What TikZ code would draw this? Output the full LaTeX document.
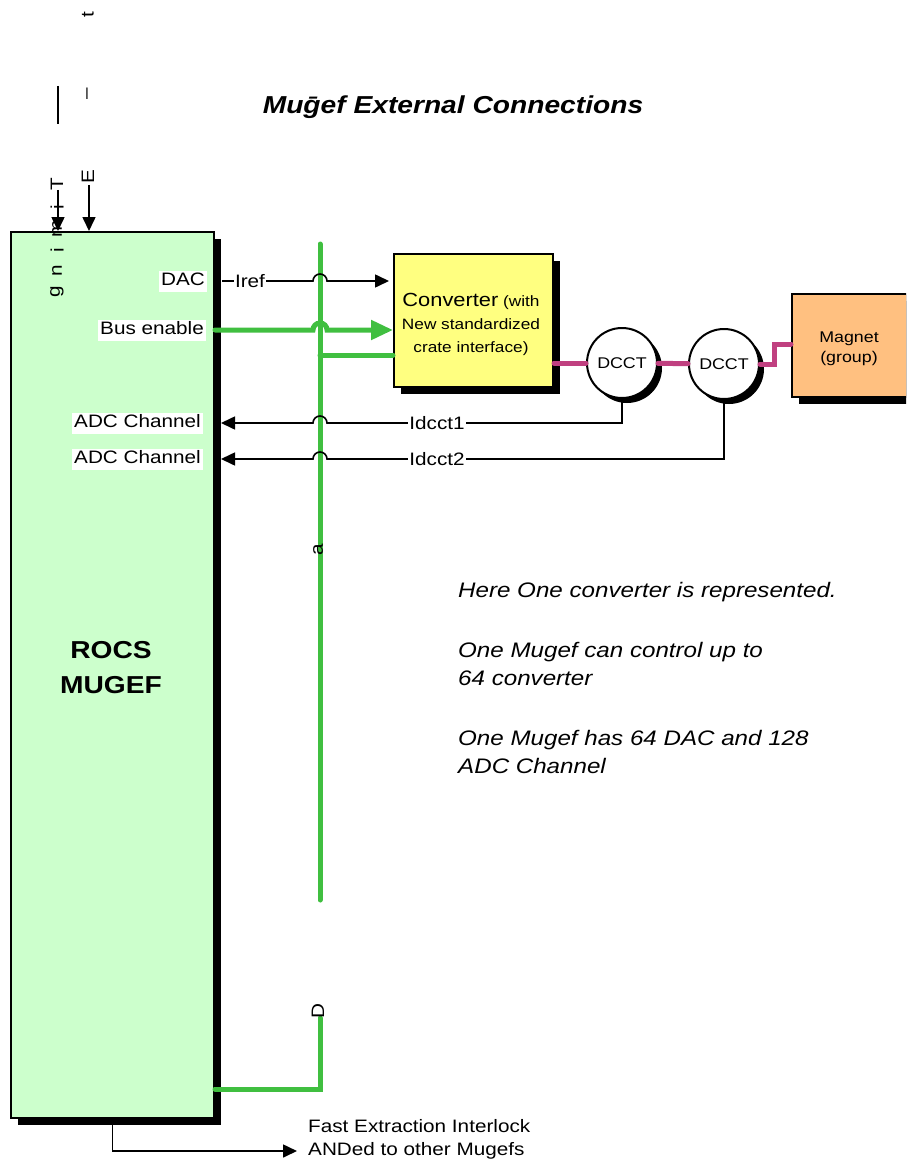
\documentclass[tikz,border=0pt]{standalone}
\usepackage{fontspec}
\setmainfont{Liberation Sans}[FakeStretch=1.15]
\usepackage{tikz}
\usetikzlibrary{arrows.meta,positioning,calc,shadows}
\usepackage{xcolor}
\definecolor{RocsGreen}{HTML}{CCFFCC}
\definecolor{BusGreen}{HTML}{40BF40}
\definecolor{ConvYellow}{HTML}{FFFF80}
\definecolor{MagOrange}{HTML}{FFC080}
\definecolor{PwrPink}{HTML}{C04080}

\begin{document}
\begin{tikzpicture}[x=1pt, y=-1pt,
    txt/.style={font=\fontsize{18}{22}\selectfont, inner sep=2pt},
    lbl/.style={txt, fill=white, text height=13pt, text depth=4pt},
    ltr/.style={font=\fontsize{18}{18}\selectfont, rotate=90, inner sep=0pt},
    note/.style={font=\fontsize{21}{28}\selectfont\itshape, align=left, anchor=west, inner sep=0pt},
    blk/.style={line width=1.6pt, black},
    blkarrow/.style={-{Triangle[length=14pt,width=13pt]}},
    bus/.style={line width=5pt, BusGreen, line cap=round},
    pwr/.style={line width=5pt, PwrPink, line cap=round},
    shd/.style={drop shadow={shadow xshift=7pt, shadow yshift=-7pt, fill=black, opacity=1}},
    dcctnode/.style={draw, circle, line width=2pt, fill=white, minimum size=70pt, inner sep=0pt,
      font=\fontsize{15.5}{18}\selectfont,
      drop shadow={shadow xshift=5pt, shadow yshift=-5pt, fill=black, opacity=1}}]
  \useasboundingbox (0,0) rectangle (906,1161);
  \clip (0,0) rectangle (906,1161);

  \node[font=\fontsize{24.5}{28}\selectfont\bfseries\itshape] (title) at (453,107) {Mu\={g}ef External Connections};

  % crate
  \node[draw, line width=2pt, fill=RocsGreen, shd, minimum width=203pt, minimum height=886pt, inner sep=0pt] (rocs) at (112.5,675) {};
  \node[font=\fontsize{24.5}{35}\selectfont\bfseries, align=center] (rocslbl) at (111,668) {ROCS\\MUGEF};
  \node[lbl, anchor=east] (dac) at (207,281) {DAC};
  \node[lbl, anchor=east] (busen) at (206,330) {Bus enable};
  \node[lbl, anchor=east] (adc1) at (203,423) {ADC Channel};
  \node[lbl, anchor=east] (adc2) at (203,459) {ADC Channel};

  % converter, dccts, magnet
  \node[draw, line width=2pt, fill=ConvYellow, shd, minimum width=159pt, minimum height=133pt] (conv) at (473.5,320.5) {};
  \node[align=center, font=\fontsize{15}{23}\selectfont] (convlbl) at (471,324) {{\fontsize{19}{23}\selectfont Converter} (with\\New standardized\\crate interface)};
  \node[dcctnode] (dcct1) at (622,363) {DCCT};
  \node[dcctnode] (dcct2) at (724,364) {DCCT};
  \node[draw, line width=2pt, fill=MagOrange, shd, minimum width=115pt, minimum height=103pt] (magnet) at (849.5,345.5) {};
  \node[align=center, font=\fontsize{15.5}{20}\selectfont] (maglbl) at (849,349) {Magnet\\(group)};

  % bus
  \coordinate (bustop) at (320,244);
  \coordinate (busbot) at (320,900);
  \coordinate (tap) at (320,355);
  \coordinate (dtop) at (320,1018);
  \draw[bus] (bustop) -- (busbot);
  \draw[bus] (tap) -- (conv.west |- tap);
  \draw[bus] ($(rocs.south east)+(0,-30)$) -| (dtop);

  % links
  \draw[blk, blkarrow] ($(rocs.east |- dac)+(7,0)$) -- ($(bustop |- dac)+(-7,0)$) arc[start angle=180, end angle=0, radius=7pt] -- ($(conv.west |- dac)+(-4,0)$);
  \draw[bus, -{Triangle[length=22pt,width=19pt]}] (rocs.east |- busen) -- ($(bustop |- busen)+(-7,0)$) arc[start angle=180, end angle=0, radius=7pt] -- (conv.west |- busen);
  \draw[blk, blkarrow] (dcct1.south) |- ($(bustop |- adc1)+(7,0)$) arc[start angle=0, end angle=180, radius=7pt] -- ($(rocs.east |- adc1)+(6,0)$);
  \draw[blk, blkarrow] (dcct2.south) |- ($(bustop |- adc2)+(7,0)$) arc[start angle=0, end angle=180, radius=7pt] -- ($(rocs.east |- adc2)+(6,0)$);
  \node[txt, fill=white, inner sep=1pt] (iref) at (250,281) {Iref};
  \node[txt, fill=white, inner sep=1pt] (id1) at (437,423) {Idcct1};
  \node[txt, fill=white, inner sep=1pt] (id2) at (437,459) {Idcct2};

  \draw[pwr] (conv.east |- dcct1) -- (dcct1);
  \draw[pwr] (dcct1) -- (dcct2);
  \draw[pwr] (dcct2.east) -- ++(14,0) |- ($(magnet.north west)+(0,51)$);

  % top inputs
  \coordinate (tin) at (58,190);
  \coordinate (ein) at (89,185);
  \draw[blk, blkarrow] (tin) -- (tin |- rocs.north);
  \draw[blk, blkarrow] (ein) -- (ein |- rocs.north);
  \draw[line width=1.6pt] (58,86) -- (58,124);
  \foreach \ch/\yy in {T/184, i/207, m/229, i/250, n/271, g/292}
    \node[ltr] (tim-\yy) at (57,\yy) {\ch};
  \node[ltr] (ext-e) at (88,177) {E};
  \node[ltr] (ext-dash) at (89,94) {–};
  \node[ltr] (ext-t) at (88,15) {t};
  \node[ltr] (bus-a) at (318,550) {a};
  \node[ltr] (bus-d) at (318,1011) {D};

  % interlock out
  \node[txt, anchor=west] (anded) at (306,1151) {ANDed to other Mugefs};
  \node[txt, above=6pt of anded.north west, anchor=south west] (fei) {Fast Extraction Interlock};
  \draw[blk, blkarrow] (rocs.south) |- ($(anded.west)+(-9,0)$);

  % notes
  \node[note] (note1) at (458,592) {Here One converter is represented.};
  \node[note] (note2) at (458,664) {One Mugef can control up to\\64 converter};
  \node[note] (note3) at (458,752) {One Mugef has 64 DAC and 128\\ADC Channel};
\end{tikzpicture}
\end{document}
